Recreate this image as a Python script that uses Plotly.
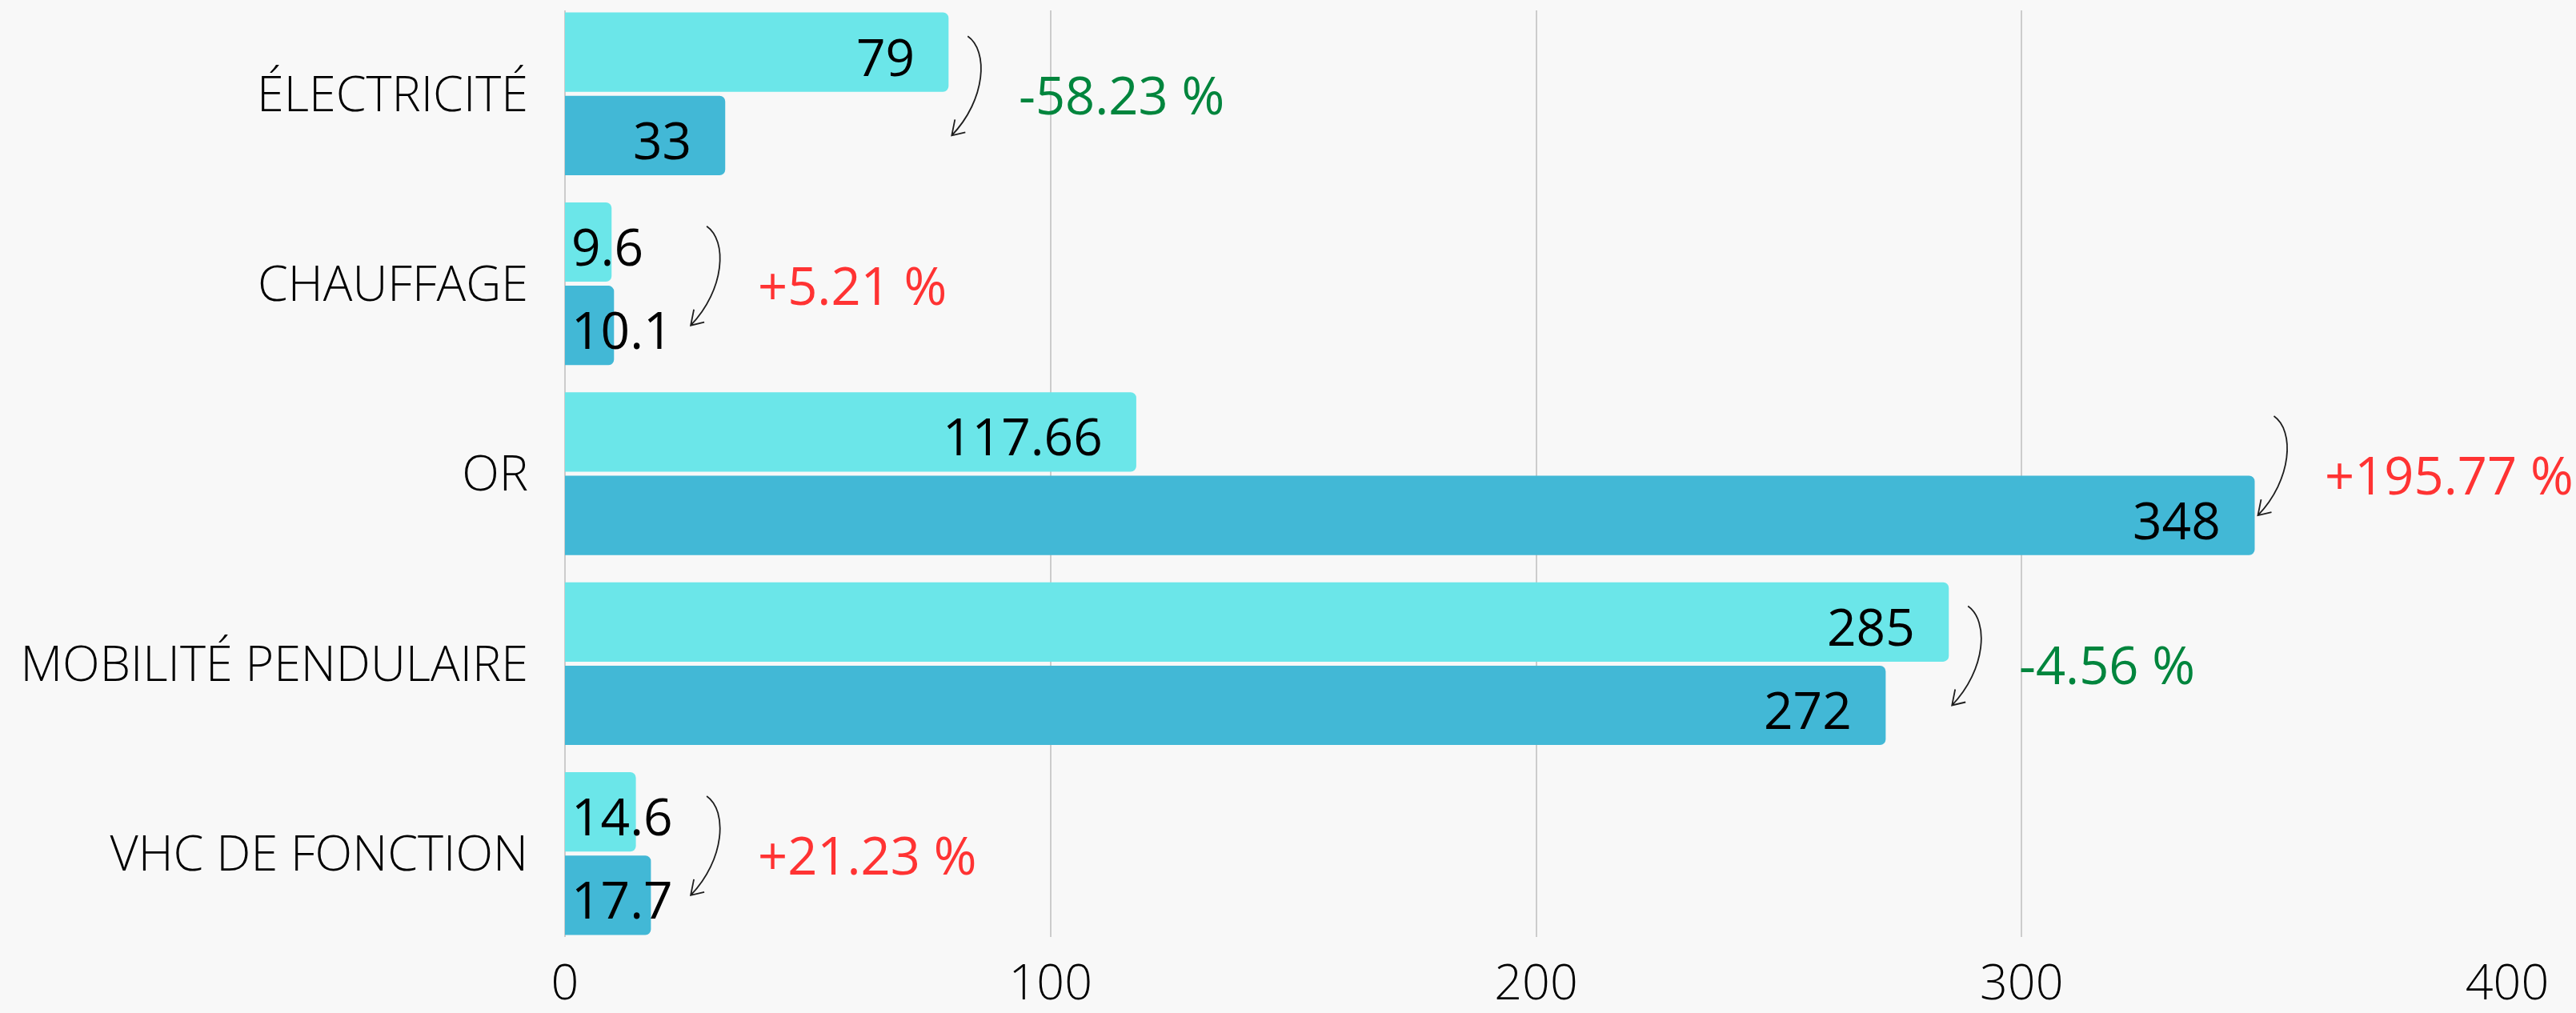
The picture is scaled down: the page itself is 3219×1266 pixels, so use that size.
import plotly.graph_objects as go

# --- data -------------------------------------------------------------
categories = ["ÉLECTRICITÉ", "CHAUFFAGE", "OR", "MOBILITÉ PENDULAIRE", "VHC DE FONCTION"]
values_before = [79, 9.6, 117.66, 285, 14.6]
values_after = [33, 10.1, 348, 272, 17.7]
x_ticks = [0, 100, 200, 300, 400]

# --- style ------------------------------------------------------------
LIGHT = "#6be6e9"
DARK = "#42b8d6"
GREEN = "#00853d"
RED = "#ff3333"
GRID = "#cccccc"
BG = "#f8f8f8"
FONT = "Open Sans"

W, H = 3219, 1266
M_L, M_R, M_T, M_B = 706, 86, 13, 95
X_MAX = 400
BARGAP = 0.122
BARGROUPGAP = 0.048
HALF = (1 - BARGAP) / 2          # half the width of a group, in category units
PX_PER_UNIT = (W - M_L - M_R) / X_MAX

VAL_SIZE = 64
PCT_SIZE = 65
AXIS_SIZE = 61


def fmt(v):
    return f"{v:g}"


def text_width(s, size):
    # rough advance widths for Open Sans digits / dot
    return sum(0.27 if c == "." else 0.572 for c in s) * size


pos = list(range(len(categories)))

fig = go.Figure()
fig.add_bar(y=pos, x=values_before, orientation="h",
            marker=dict(color=LIGHT, cornerradius=7, line_width=0),
            hoverinfo="skip")
fig.add_bar(y=pos, x=values_after, orientation="h",
            marker=dict(color=DARK, cornerradius=7, line_width=0),
            hoverinfo="skip")

annotations = []
shapes = []
for i, (a, b) in enumerate(zip(values_before, values_after)):
    ends = []
    for v, dy in ((a, -HALF / 2), (b, HALF / 2)):
        label = fmt(v)
        w = text_width(label, VAL_SIZE)
        bar_px = v * PX_PER_UNIT
        if bar_px > w + 60:
            annotations.append(dict(x=v, y=i + dy, text=label, showarrow=False,
                                    xanchor="right", xshift=-40, yshift=-5,
                                    font=dict(family=FONT, size=VAL_SIZE, color="#000")))
            ends.append(bar_px + 4)
        else:
            annotations.append(dict(x=0, y=i + dy, text=label, showarrow=False,
                                    xanchor="left", xshift=6, yshift=-5,
                                    font=dict(family=FONT, size=VAL_SIZE, color="#000")))
            ends.append(max(bar_px, 6 + w) + 24)
    tip = max(ends)

    # curved arrow from the first bar down to the second one (pixel offsets, y up)
    path = (f"M {tip + 20:.1f},124 C {tip + 46:.1f},106 {tip + 43:.1f},45 {tip:.1f},0 "
            f"M {tip + 4:.1f},20 L {tip:.1f},0 L {tip + 17:.1f},4")
    shapes.append(dict(type="path", xref="x", yref="y",
                       xsizemode="pixel", ysizemode="pixel",
                       xanchor=0, yanchor=i + HALF / 2,
                       path=path, line=dict(color="#1e1e1e", width=1.8),
                       layer="above"))

    change = (b - a) / a * 100
    annotations.append(dict(x=0, y=i, text=f"{change:+.2f} %", showarrow=False,
                            xanchor="left", xshift=tip + 82, yshift=-1,
                            font=dict(family=FONT, size=PCT_SIZE,
                                      color=RED if change > 0 else GREEN)))

fig.update_layout(
    width=W, height=H, autosize=False,
    margin=dict(l=M_L, r=M_R, t=M_T, b=M_B, pad=0),
    paper_bgcolor=BG, plot_bgcolor=BG,
    barmode="group", bargap=BARGAP, bargroupgap=BARGROUPGAP,
    showlegend=False,
    annotations=annotations, shapes=shapes,
    font=dict(family=FONT, color="#000"),
)
fig.update_xaxes(
    range=[0, X_MAX], tickvals=x_ticks, ticktext=[str(t) for t in x_ticks],
    showgrid=True, gridcolor=GRID, gridwidth=2,
    zeroline=True, zerolinecolor=GRID, zerolinewidth=2,
    showline=False, ticks="", ticklabelstandoff=16, automargin=False,
    tickfont=dict(family=FONT, size=AXIS_SIZE, color="#000", weight=300),
    fixedrange=True,
)
fig.update_yaxes(
    tickvals=pos, ticktext=categories,
    range=[len(categories) - 1 + HALF, -HALF],
    showgrid=False, zeroline=False, showline=False, ticks="",
    ticklabelstandoff=45, automargin=False,
    tickfont=dict(family=FONT, size=AXIS_SIZE, color="#000", weight=300),
    fixedrange=True,
)

fig.write_html("out.html")
